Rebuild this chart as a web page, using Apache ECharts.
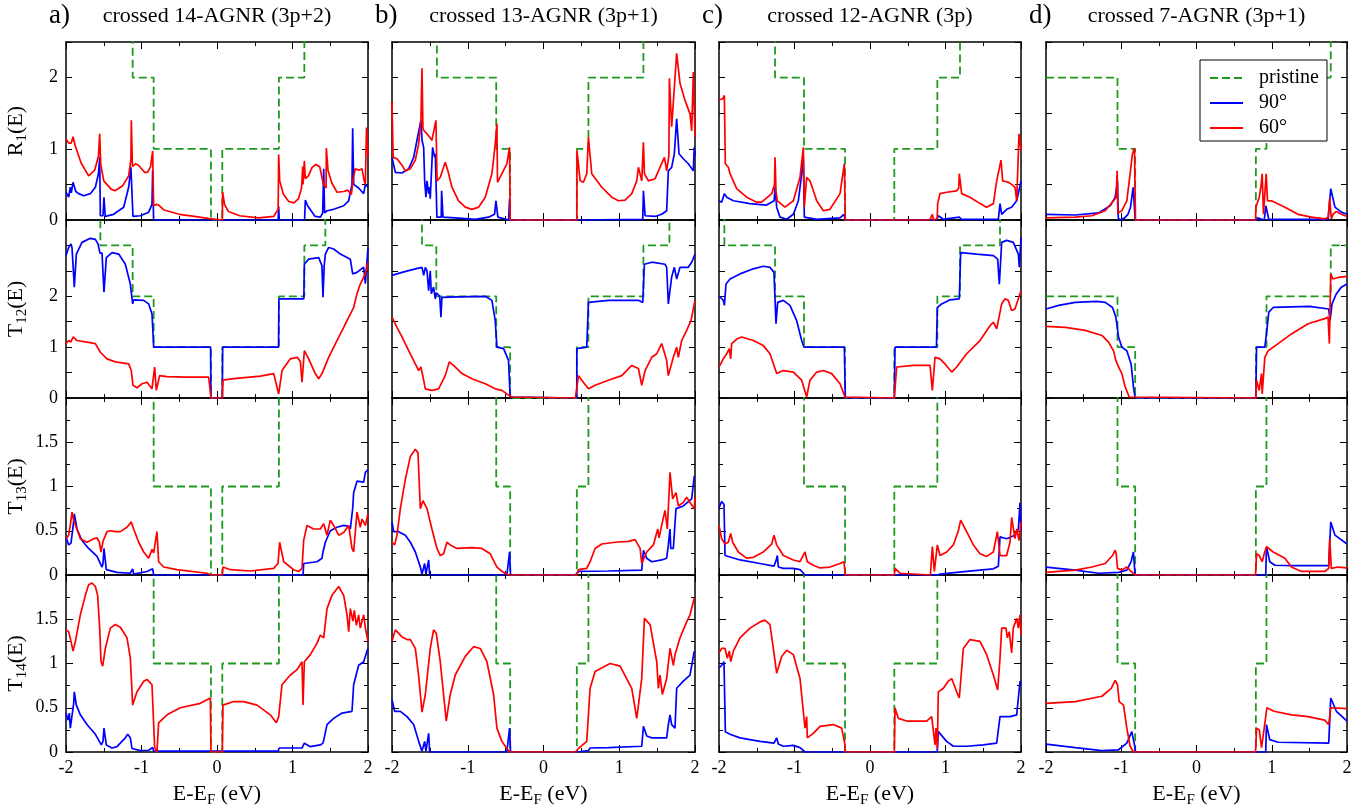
<!DOCTYPE html>
<html>
<head>
<meta charset="utf-8">
<title>crossed AGNR transmission</title>
<script src="https://cdn.jsdelivr.net/npm/echarts@6/dist/echarts.min.js"></script>
<style>
  html, body { margin: 0; padding: 0; background: #fff; }
  #chart { width: 1372px; height: 812px; }
</style>
</head>
<body>
<div id="chart"></div>
<script>
// ---- data: [E - E_F (eV), value] ----

// a) crossed 14-AGNR (3p+2)
const a_R1_pr = [[-2,3],[-1.117,3],[-1.117,2],[-0.839,2],[-0.839,1],[-0.08,1],[-0.08,0],[0.07,0],[0.07,1],[0.82,1],[0.82,2],[1.157,2],[1.157,3],[2,3]];
const a_R1_90 = [[-2,0.39],[-1.965,0.32],[-1.943,0.46],[-1.93,0.38],[-1.907,0.53],[-1.89,0.55],[-1.87,0.4],[-1.832,0.37],[-1.766,0.34],[-1.678,0.37],[-1.611,0.46],[-1.57,0.65],[-1.554,0.88],[-1.545,0.06],[-1.51,0.06],[-1.497,0.32],[-1.48,0.05],[-1.37,0.08],[-1.236,0.18],[-1.17,0.46],[-1.14,0.74],[-1.113,0.05],[-1.015,0.06],[-0.905,0.11],[-0.861,0.22],[-0.852,0.7],[-0.84,0],[0.81,0],[0.817,0.19],[0.825,0],[1.16,0],[1.17,0.28],[1.2,0.2],[1.3,0.05],[1.37,0.04],[1.4,0.1],[1.413,0.72],[1.425,0.1],[1.457,0.13],[1.545,0.15],[1.678,0.2],[1.744,0.27],[1.788,0.5],[1.797,1.29],[1.81,0.5],[1.832,0.48],[1.876,0.45],[1.943,0.37],[1.965,0.5],[2,0.46]];
const a_R1_60 = [[-2,1.14],[-1.965,1.08],[-1.93,1.08],[-1.907,1.17],[-1.88,1.05],[-1.8,0.8],[-1.7,0.62],[-1.62,0.7],[-1.57,0.9],[-1.554,1.21],[-1.54,0.78],[-1.5,0.55],[-1.4,0.43],[-1.35,0.41],[-1.25,0.48],[-1.17,0.62],[-1.14,0.85],[-1.135,1.4],[-1.12,0.75],[-1.08,0.79],[-1.04,0.77],[-0.96,0.67],[-0.92,0.67],[-0.88,0.75],[-0.852,0.97],[-0.84,0.2],[-0.8,0.22],[-0.773,0.21],[-0.7,0.14],[-0.5,0.08],[-0.3,0.05],[-0.1,0.02],[-0.08,0],[0.07,0],[0.075,0.39],[0.1,0.22],[0.15,0.12],[0.3,0.06],[0.55,0.03],[0.75,0.05],[0.81,0.15],[0.817,0.92],[0.83,0.55],[0.88,0.36],[0.95,0.26],[1.02,0.24],[1.08,0.3],[1.12,0.45],[1.135,0.75],[1.14,0.5],[1.157,0.83],[1.17,0.58],[1.21,0.62],[1.26,0.74],[1.31,0.78],[1.36,0.75],[1.41,0.5],[1.445,0.45],[1.448,1.01],[1.47,0.7],[1.52,0.52],[1.59,0.39],[1.68,0.4],[1.73,0.42],[1.78,0.36],[1.8,0.55],[1.83,0.72],[1.88,0.7],[1.92,0.72],[1.95,0.55],[1.965,0.5],[1.98,1.3],[2,0.9]];

const a_T12_pr = [[-2,4],[-1.545,4],[-1.545,3],[-1.117,3],[-1.117,2],[-0.839,2],[-0.839,1],[-0.08,1],[-0.08,0],[0.07,0],[0.07,1],[0.82,1],[0.82,2],[1.157,2],[1.157,3],[1.435,3],[1.435,4],[2,4]];
const a_T12_90 = [[-2,2.8],[-1.965,2.96],[-1.934,3.03],[-1.92,2.95],[-1.89,2.18],[-1.863,2.83],[-1.788,3.06],[-1.678,3.14],[-1.611,3.12],[-1.576,3.03],[-1.55,2.85],[-1.523,2.85],[-1.497,2.08],[-1.466,2.76],[-1.391,2.86],[-1.302,2.83],[-1.214,2.63],[-1.148,2.24],[-1.117,1.85],[-1.104,1.93],[-0.971,1.92],[-0.905,1.85],[-0.861,1.65],[-0.845,1.2],[-0.839,1],[-0.085,1],[-0.08,0],[0.07,0],[0.075,1],[0.815,1],[0.82,1.95],[1.15,1.95],[1.157,2.63],[1.214,2.73],[1.347,2.76],[1.39,2.6],[1.404,1.98],[1.42,2.6],[1.435,2.83],[1.479,2.96],[1.545,2.93],[1.634,2.83],[1.766,2.73],[1.797,2.44],[1.854,2.47],[1.943,2.57],[1.965,2.25],[2,2.96]];
const a_T12_60 = [[-2,1.07],[-1.965,1.13],[-1.934,1.1],[-1.907,1.2],[-1.854,1.13],[-1.722,1.1],[-1.611,1.07],[-1.545,0.9],[-1.523,0.88],[-1.457,0.77],[-1.347,0.71],[-1.17,0.67],[-1.135,0.54],[-1.113,0.25],[-1.06,0.2],[-0.993,0.28],[-0.927,0.31],[-0.861,0.18],[-0.826,0.61],[-0.804,0.15],[-0.76,0.44],[-0.662,0.42],[-0.397,0.41],[-0.11,0.41],[-0.085,0.41],[-0.08,0],[0.07,0],[0.079,0.35],[0.221,0.38],[0.574,0.43],[0.751,0.48],[0.817,0.08],[0.861,0.54],[0.971,0.77],[1.06,0.8],[1.104,0.72],[1.126,0.31],[1.157,0.93],[1.214,0.77],[1.302,0.48],[1.347,0.38],[1.391,0.48],[1.479,0.8],[1.589,1.13],[1.678,1.39],[1.722,1.52],[1.766,1.65],[1.81,1.78],[1.854,2.05],[1.898,2.24],[1.965,2.44],[2,2.67]];

const a_T13_pr = [[-2,3],[-0.839,3],[-0.839,1],[-0.08,1],[-0.08,0],[0.07,0],[0.07,1],[0.82,1],[0.82,3],[2,3]];
const a_T13_90 = [[-2,0.43],[-1.965,0.34],[-1.934,0.36],[-1.907,0.54],[-1.89,0.69],[-1.854,0.52],[-1.788,0.39],[-1.7,0.3],[-1.589,0.21],[-1.523,0.09],[-1.51,0.13],[-1.497,0.3],[-1.466,0.06],[-1.325,0.03],[-1.15,0.02],[-1.117,0.07],[-1.104,0.01],[-0.927,0.04],[-0.852,0.07],[-0.839,0],[1.14,0],[1.148,0.13],[1.325,0.15],[1.391,0.19],[1.404,0.26],[1.435,0.37],[1.501,0.5],[1.589,0.54],[1.678,0.56],[1.744,0.55],[1.766,0.52],[1.797,0.75],[1.81,0.93],[1.854,1.06],[1.943,1.05],[1.965,1.16],[2,1.19]];
const a_T13_60 = [[-2,0.41],[-1.965,0.45],[-1.943,0.56],[-1.92,0.71],[-1.898,0.62],[-1.81,0.41],[-1.722,0.37],[-1.634,0.41],[-1.589,0.42],[-1.558,0.37],[-1.536,0.26],[-1.51,0.38],[-1.457,0.49],[-1.413,0.5],[-1.347,0.49],[-1.28,0.49],[-1.192,0.54],[-1.135,0.6],[-1.104,0.52],[-1.037,0.37],[-0.971,0.26],[-0.905,0.19],[-0.861,0.29],[-0.839,0.25],[-0.795,0.49],[-0.773,0.15],[-0.706,0.09],[-0.53,0.06],[-0.132,0.02],[-0.08,0],[0.07,0],[0.079,0.09],[0.177,0.06],[0.442,0.045],[0.751,0.075],[0.808,0.13],[0.83,0.37],[0.883,0.15],[1.015,0.06],[1.082,0.04],[1.126,0.075],[1.148,0.39],[1.192,0.56],[1.28,0.52],[1.369,0.52],[1.413,0.58],[1.457,0.45],[1.501,0.62],[1.545,0.56],[1.612,0.45],[1.678,0.48],[1.744,0.56],[1.788,0.3],[1.81,0.26],[1.854,0.71],[1.898,0.54],[1.92,0.63],[1.965,0.56],[2,0.69]];

const a_T14_pr = [[-2,3],[-0.839,3],[-0.839,1],[-0.08,1],[-0.08,0],[0.07,0],[0.07,1],[0.82,1],[0.82,3],[2,3]];
const a_T14_90 = [[-2,0.44],[-1.974,0.36],[-1.956,0.44],[-1.943,0.27],[-1.92,0.27],[-1.898,0.55],[-1.89,0.68],[-1.863,0.53],[-1.81,0.42],[-1.722,0.31],[-1.611,0.2],[-1.532,0.08],[-1.51,0.12],[-1.497,0.27],[-1.466,0.08],[-1.391,0.045],[-1.325,0.06],[-1.214,0.16],[-1.183,0.2],[-1.148,0.16],[-1.126,0.04],[-1.015,0.015],[-0.905,0.02],[-0.852,0.05],[-0.839,0.01],[0.81,0.01],[0.825,0.045],[1.126,0.045],[1.157,0.1],[1.236,0.06],[1.369,0.08],[1.404,0.1],[1.42,0.16],[1.457,0.31],[1.545,0.38],[1.656,0.44],[1.788,0.46],[1.81,0.76],[1.876,0.98],[1.943,1.02],[1.987,1.14],[2,1.17]];
const a_T14_60 = [[-2,1.38],[-1.965,1.36],[-1.934,1.25],[-1.907,1.14],[-1.876,1.25],[-1.81,1.55],[-1.744,1.77],[-1.7,1.89],[-1.656,1.91],[-1.611,1.87],[-1.581,1.77],[-1.554,1.4],[-1.536,1.02],[-1.514,0.97],[-1.479,1.17],[-1.413,1.4],[-1.347,1.44],[-1.28,1.41],[-1.192,1.29],[-1.148,1.06],[-1.117,0.53],[-1.06,0.68],[-0.971,0.8],[-0.927,0.82],[-0.861,0.76],[-0.826,0.05],[-0.795,0],[-0.773,0.33],[-0.75,0.33],[-0.662,0.42],[-0.486,0.5],[-0.221,0.55],[-0.088,0.61],[-0.08,0],[0.07,0],[0.079,0.53],[0.221,0.57],[0.353,0.57],[0.53,0.53],[0.706,0.42],[0.786,0.33],[0.817,0.4],[0.861,0.76],[0.971,0.87],[1.06,0.93],[1.126,1.02],[1.139,0.53],[1.157,1.02],[1.236,1.1],[1.325,1.23],[1.369,1.32],[1.413,1.29],[1.457,1.62],[1.523,1.77],[1.612,1.87],[1.678,1.77],[1.722,1.55],[1.744,1.36],[1.766,1.62],[1.8,1.48],[1.819,1.6],[1.846,1.43],[1.876,1.55],[1.898,1.4],[1.943,1.55],[1.965,1.4],[2,1.25]];

// b) crossed 13-AGNR (3p+1)
const b_R1_pr = [[-2,3],[-1.407,3],[-1.407,2],[-0.624,2],[-0.624,1],[-0.44,1],[-0.44,0],[0.44,0],[0.44,1],[0.593,1],[0.593,2],[1.319,2],[1.319,3],[2,3]];
const b_R1_90 = [[-2,0.88],[-1.956,0.67],[-1.868,0.66],[-1.78,0.72],[-1.714,0.88],[-1.67,1.12],[-1.618,1.4],[-1.604,1.12],[-1.582,1.02],[-1.569,0.55],[-1.552,0.32],[-1.538,0.55],[-1.516,0.37],[-1.503,0.46],[-1.495,0.3],[-1.464,1.02],[-1.437,0.88],[-1.428,0.93],[-1.407,0.04],[-1.35,0.04],[-1.345,0.41],[-1.327,0.04],[-1.165,0.03],[-0.901,0.01],[-0.725,0.04],[-0.646,0.08],[-0.628,0.27],[-0.602,0.04],[-0.46,0],[-0.448,0.3],[-0.44,0],[0.44,0],[0.45,0.01],[1.31,0.01],[1.319,0.41],[1.341,0.06],[1.473,0.05],[1.56,0.08],[1.626,0.13],[1.648,0.69],[1.692,0.74],[1.727,0.93],[1.758,1.42],[1.789,0.93],[1.846,0.86],[1.912,0.79],[1.978,0.69],[1.99,1.02],[2,0.9]];
const b_R1_60 = [[-2,1.66],[-1.985,0.88],[-1.934,0.86],[-1.868,0.77],[-1.824,0.69],[-1.758,0.72],[-1.692,0.84],[-1.648,1.07],[-1.618,1.4],[-1.604,2.13],[-1.592,1.3],[-1.582,1.26],[-1.538,1.21],[-1.473,1.12],[-1.42,1.4],[-1.405,0.55],[-1.363,0.6],[-1.297,0.81],[-1.262,0.69],[-1.209,0.46],[-1.121,0.27],[-1.033,0.18],[-0.945,0.15],[-0.857,0.18],[-0.769,0.32],[-0.681,0.65],[-0.637,1.07],[-0.615,1.35],[-0.607,0.53],[-0.549,0.65],[-0.484,0.79],[-0.448,1.02],[-0.44,0],[0.44,0],[0.442,0.98],[0.484,0.55],[0.527,0.53],[0.571,0.65],[0.593,1.16],[0.637,0.65],[0.769,0.46],[0.901,0.32],[0.989,0.27],[1.077,0.28],[1.165,0.37],[1.231,0.55],[1.253,0.74],[1.297,0.55],[1.319,1.09],[1.332,0.65],[1.385,0.55],[1.473,0.58],[1.538,0.74],[1.596,0.88],[1.626,0.69],[1.655,0.9],[1.662,1.99],[1.692,1.31],[1.758,2.34],[1.802,1.92],[1.868,1.68],[1.934,1.49],[1.956,1.25],[1.978,2.08],[2,1.16]];

const b_T12_pr = [[-2,4],[-1.604,4],[-1.604,3],[-1.415,3],[-1.415,2],[-0.624,2],[-0.624,1],[-0.44,1],[-0.44,0],[0.44,0],[0.44,1],[0.593,1],[0.593,2],[1.319,2],[1.319,3],[1.662,3],[1.662,4],[2,4]];
const b_T12_90 = [[-2,2.41],[-1.868,2.47],[-1.692,2.54],[-1.604,2.57],[-1.582,2.41],[-1.56,2.57],[-1.538,2.5],[-1.516,2.11],[-1.495,2.5],[-1.481,2.05],[-1.451,2.18],[-1.429,1.95],[-1.415,2.07],[-1.37,2],[-1.354,1.59],[-1.341,1.98],[-1.121,1.99],[-0.769,2],[-0.681,1.92],[-0.637,1.52],[-0.615,1],[-0.527,0.97],[-0.462,0.74],[-0.44,0.02],[-0.44,0],[0.44,0],[0.44,0.97],[0.571,1],[0.593,1.88],[0.857,1.92],[1.253,1.92],[1.31,1.88],[1.332,2.63],[1.429,2.67],[1.604,2.63],[1.626,2.57],[1.648,1.85],[1.692,2.38],[1.727,2.57],[1.758,2.34],[1.802,2.57],[1.912,2.57],[1.956,2.67],[2,2.83]];
const b_T12_60 = [[-2,1.59],[-1.934,1.39],[-1.868,1.2],[-1.78,0.93],[-1.692,0.67],[-1.648,0.54],[-1.618,0.61],[-1.582,0.35],[-1.56,0.18],[-1.473,0.15],[-1.385,0.18],[-1.297,0.44],[-1.244,0.71],[-1.187,0.64],[-1.077,0.48],[-0.945,0.38],[-0.769,0.28],[-0.637,0.18],[-0.549,0.15],[-0.484,0.08],[-0.418,0.02],[-0.4,0],[0.42,0],[0.462,0.44],[0.505,0.35],[0.593,0.18],[0.681,0.25],[0.857,0.35],[1.033,0.44],[1.165,0.64],[1.253,0.58],[1.297,0.25],[1.341,0.54],[1.429,0.8],[1.495,0.87],[1.56,1.07],[1.626,0.74],[1.648,0.44],[1.714,0.8],[1.758,1],[1.78,0.8],[1.824,1.13],[1.89,1.33],[1.947,1.52],[2,1.92]];

const b_T13_pr = [[-2,3],[-0.624,3],[-0.624,1],[-0.44,1],[-0.44,0],[0.44,0],[0.44,1],[0.593,1],[0.593,3],[2,3]];
const b_T13_90 = [[-2,0.6],[-1.978,0.49],[-1.912,0.49],[-1.824,0.45],[-1.758,0.37],[-1.692,0.26],[-1.626,0.09],[-1.604,0.01],[-1.569,0.13],[-1.552,0.01],[-1.516,0.17],[-1.503,0],[-0.484,0],[-0.448,0.26],[-0.435,0],[0.42,0],[0.462,0.04],[0.857,0.045],[1.297,0.055],[1.319,0.28],[1.363,0.19],[1.429,0.15],[1.56,0.17],[1.626,0.19],[1.648,0.34],[1.67,0.52],[1.68,0.3],[1.714,0.3],[1.749,0.75],[1.846,0.78],[1.956,0.86],[1.991,1.12],[2,1.12]];
const b_T13_60 = [[-2,0.37],[-1.965,0.34],[-1.934,0.45],[-1.89,0.75],[-1.824,1.08],[-1.758,1.34],[-1.692,1.42],[-1.657,1.38],[-1.626,0.75],[-1.591,0.84],[-1.538,0.75],[-1.473,0.52],[-1.407,0.3],[-1.363,0.22],[-1.319,0.24],[-1.275,0.37],[-1.231,0.34],[-1.143,0.3],[-0.945,0.31],[-0.813,0.3],[-0.703,0.24],[-0.615,0.09],[-0.549,0.04],[-0.462,0],[0.44,0],[0.462,0.06],[0.571,0.075],[0.615,0.15],[0.681,0.3],[0.769,0.35],[0.945,0.37],[1.121,0.38],[1.209,0.4],[1.275,0.3],[1.297,0.13],[1.363,0.26],[1.451,0.34],[1.508,0.52],[1.525,0.42],[1.56,0.56],[1.604,0.73],[1.635,0.52],[1.67,1.16],[1.705,0.86],[1.749,0.93],[1.78,0.78],[1.846,0.82],[1.89,0.88],[1.934,0.82],[1.991,0.75],[2,0.88]];

const b_T14_pr = [[-2,3],[-0.624,3],[-0.624,1],[-0.44,1],[-0.44,0],[0.44,0],[0.44,1],[0.593,1],[0.593,3],[2,3]];
const b_T14_90 = [[-2,0.59],[-1.965,0.46],[-1.89,0.46],[-1.802,0.4],[-1.714,0.31],[-1.648,0.12],[-1.604,0.01],[-1.569,0.12],[-1.552,0.01],[-1.516,0.21],[-1.503,0],[-0.484,0],[-0.448,0.27],[-0.435,0],[0.44,0],[0.593,0.015],[0.615,0.045],[0.857,0.05],[1.297,0.065],[1.319,0.29],[1.363,0.18],[1.429,0.16],[1.626,0.16],[1.648,0.31],[1.67,0.42],[1.692,0.31],[1.736,0.27],[1.758,0.72],[1.846,0.8],[1.934,0.87],[1.991,1.14],[2,1.14]];
const b_T14_60 = [[-2,1.25],[-1.956,1.38],[-1.934,1.4],[-1.868,1.3],[-1.802,1.27],[-1.758,1.27],[-1.692,1.17],[-1.648,0.86],[-1.604,0.45],[-1.56,0.65],[-1.495,1.17],[-1.451,1.38],[-1.415,1.34],[-1.363,1.02],[-1.284,0.35],[-1.231,0.65],[-1.165,0.87],[-1.033,1.08],[-0.923,1.19],[-0.835,1.17],[-0.747,1.02],[-0.659,0.65],[-0.615,0.27],[-0.549,0.12],[-0.484,0.04],[-0.44,0],[0.42,0],[0.462,0.04],[0.571,0.12],[0.615,0.72],[0.681,0.91],[0.879,1],[1.011,0.97],[1.165,0.72],[1.231,0.38],[1.297,0.83],[1.332,1.51],[1.407,1.44],[1.495,1.02],[1.516,0.72],[1.538,0.87],[1.569,0.65],[1.626,0.83],[1.67,1.17],[1.714,0.98],[1.736,1.1],[1.802,1.29],[1.89,1.47],[1.934,1.55],[1.991,1.74],[2,1.74]];

// c) crossed 12-AGNR (3p)
const c_R1_pr = [[-2,3],[-1.258,3],[-1.258,2],[-0.874,2],[-0.874,1],[-0.331,1],[-0.331,0],[0.322,0],[0.322,1],[0.892,1],[0.892,2],[1.192,2],[1.192,3],[2,3]];
const c_R1_90 = [[-2,0.27],[-1.965,0.25],[-1.929,0.37],[-1.898,0.32],[-1.81,0.27],[-1.59,0.23],[-1.37,0.21],[-1.27,0.27],[-1.258,0.46],[-1.236,0.18],[-1.192,0.04],[-1.104,0.01],[-1.015,0.08],[-0.949,0.27],[-0.905,0.65],[-0.883,0.88],[-0.87,0.04],[-0.706,0.01],[-0.397,0.03],[-0.345,0.08],[-0.327,0],[0.88,0],[0.905,0.06],[0.97,0.01],[1.183,0.04],[1.21,0.01],[1.7,0.01],[1.722,0.23],[1.744,0.08],[1.81,0.15],[1.876,0.18],[1.943,0.27],[1.987,0.48],[2,0.55]];
const c_R1_60 = [[-2,1.69],[-1.951,1.7],[-1.929,1.75],[-1.916,0.79],[-1.876,0.74],[-1.854,0.65],[-1.832,0.63],[-1.766,0.44],[-1.634,0.32],[-1.501,0.25],[-1.435,0.25],[-1.302,0.37],[-1.265,0.5],[-1.258,0.88],[-1.245,0.4],[-1.227,0.27],[-1.126,0.18],[-1.015,0.27],[-0.927,0.6],[-0.883,1.02],[-0.87,0.18],[-0.839,0.6],[-0.795,0.55],[-0.706,0.27],[-0.618,0.13],[-0.53,0.15],[-0.397,0.37],[-0.34,0.79],[-0.327,0],[0.79,0],[0.826,0.08],[0.84,0],[0.89,0.02],[0.896,0.23],[0.927,0.37],[1.015,0.39],[1.148,0.41],[1.175,0.45],[1.183,0.65],[1.214,0.37],[1.325,0.32],[1.457,0.23],[1.545,0.18],[1.634,0.23],[1.678,0.55],[1.735,0.84],[1.757,0.55],[1.832,0.53],[1.876,0.5],[1.92,0.46],[1.943,0.27],[1.974,1.21],[2,0.98]];

const c_T12_pr = [[-2,4],[-1.929,4],[-1.929,3],[-1.258,3],[-1.258,2],[-0.874,2],[-0.874,1],[-0.331,1],[-0.331,0],[0.322,0],[0.322,1],[0.892,1],[0.892,2],[1.192,2],[1.192,3],[1.722,3],[1.722,4],[2,4]];
const c_T12_90 = [[-2,2.01],[-1.943,1.92],[-1.929,1.82],[-1.907,2.24],[-1.854,2.34],[-1.722,2.44],[-1.545,2.54],[-1.413,2.59],[-1.325,2.57],[-1.272,2.47],[-1.245,1.46],[-1.223,1.88],[-1.148,1.92],[-1.06,1.82],[-0.971,1.52],[-0.905,1.13],[-0.874,1],[-0.34,1],[-0.327,0],[0.322,0],[0.331,1],[0.88,1],[0.892,1.78],[0.949,1.85],[1.06,1.93],[1.183,1.95],[1.201,2.86],[1.413,2.83],[1.634,2.8],[1.691,2.73],[1.713,2.24],[1.744,3.06],[1.81,3.1],[1.898,3.06],[1.965,2.83],[1.978,2.57],[2,3.16]];
const c_T12_60 = [[-2,0.61],[-1.943,0.77],[-1.898,0.87],[-1.863,0.97],[-1.845,0.77],[-1.832,1.07],[-1.766,1.16],[-1.7,1.2],[-1.545,1.13],[-1.413,1.03],[-1.325,0.87],[-1.272,0.64],[-1.236,0.48],[-1.148,0.54],[-1.015,0.51],[-0.905,0.35],[-0.839,0.02],[-0.795,0.35],[-0.706,0.51],[-0.618,0.54],[-0.508,0.48],[-0.397,0.28],[-0.331,0.02],[-0.33,0],[0.322,0],[0.353,0.61],[0.574,0.64],[0.795,0.64],[0.826,0.15],[0.861,0.8],[0.927,0.77],[0.993,0.67],[1.082,0.51],[1.148,0.61],[1.28,0.87],[1.457,1.13],[1.589,1.42],[1.634,1.49],[1.678,1.36],[1.744,1.85],[1.788,1.95],[1.832,1.92],[1.876,1.72],[1.92,1.75],[2,2.11]];

const c_T13_pr = [[-2,3],[-0.874,3],[-0.874,1],[-0.331,1],[-0.331,0],[0.322,0],[0.322,1],[0.892,1],[0.892,3],[2,3]];
const c_T13_90 = [[-2,0.76],[-1.965,0.83],[-1.934,0.8],[-1.92,0.22],[-1.898,0.2],[-1.722,0.17],[-1.457,0.13],[-1.272,0.1],[-1.245,0.16],[-1.227,0.22],[-1.214,0.09],[-1.148,0.075],[-1.015,0.075],[-0.927,0.06],[-0.86,0],[0.9,0],[0.927,0.01],[1.28,0.04],[1.634,0.07],[1.7,0.1],[1.722,0.43],[1.81,0.41],[1.92,0.45],[1.965,0.52],[1.987,0.82],[2,0.49]];
const c_T13_60 = [[-2,0.56],[-1.965,0.41],[-1.92,0.35],[-1.876,0.37],[-1.845,0.47],[-1.819,0.37],[-1.744,0.26],[-1.634,0.19],[-1.545,0.2],[-1.413,0.26],[-1.302,0.35],[-1.272,0.45],[-1.236,0.34],[-1.148,0.22],[-1.015,0.17],[-0.927,0.15],[-0.861,0.26],[-0.83,0.15],[-0.751,0.11],[-0.662,0.08],[-0.53,0.09],[-0.397,0.13],[-0.345,0.15],[-0.327,0],[0.322,0],[0.331,0.075],[0.397,0.02],[0.8,0],[0.826,0.32],[0.852,0.04],[0.892,0.34],[0.927,0.22],[1.015,0.26],[1.104,0.34],[1.17,0.5],[1.201,0.62],[1.28,0.49],[1.369,0.34],[1.457,0.24],[1.545,0.21],[1.634,0.26],[1.687,0.49],[1.722,0.22],[1.81,0.22],[1.854,0.37],[1.876,0.65],[1.92,0.41],[1.943,0.52],[1.974,0.39],[2,0.6]];

const c_T14_pr = [[-2,3],[-0.874,3],[-0.874,1],[-0.331,1],[-0.331,0],[0.322,0],[0.322,1],[0.892,1],[0.892,3],[2,3]];
const c_T14_90 = [[-2,0.95],[-1.965,0.98],[-1.934,1.02],[-1.916,0.23],[-1.854,0.2],[-1.722,0.16],[-1.457,0.12],[-1.272,0.1],[-1.236,0.16],[-1.214,0.09],[-1.148,0.065],[-1.015,0.075],[-0.927,0.05],[-0.86,0],[0.89,0],[0.905,0.23],[1.015,0.12],[1.104,0.065],[1.28,0.065],[1.501,0.08],[1.678,0.1],[1.722,0.4],[1.854,0.4],[1.943,0.42],[1.987,0.8],[2,0.76]];
const c_T14_60 = [[-2,1.12],[-1.965,1.17],[-1.92,1.17],[-1.89,1.06],[-1.863,1.14],[-1.845,1.02],[-1.81,1.14],[-1.722,1.29],[-1.589,1.4],[-1.457,1.47],[-1.391,1.49],[-1.325,1.44],[-1.28,1.17],[-1.236,0.89],[-1.17,1.08],[-1.104,1.15],[-1.015,1.1],[-0.927,0.83],[-0.861,0.27],[-0.839,0.4],[-0.83,0.16],[-0.751,0.21],[-0.662,0.29],[-0.486,0.31],[-0.375,0.27],[-0.335,0.1],[-0.327,0],[0.322,0],[0.331,0.5],[0.375,0.38],[0.486,0.35],[0.751,0.35],[0.817,0.4],[0.861,0.08],[0.874,0.27],[0.892,0.04],[0.905,0.68],[0.971,0.72],[1.037,0.8],[1.082,0.83],[1.148,0.68],[1.183,0.61],[1.236,1.17],[1.325,1.27],[1.457,1.25],[1.545,1.1],[1.634,0.87],[1.691,0.7],[1.722,1.06],[1.744,1.4],[1.801,1.4],[1.819,1.29],[1.845,1.36],[1.876,1.12],[1.898,1.4],[1.943,1.51],[1.965,1.4],[1.987,1.55],[2,1.32]];

// d) crossed 7-AGNR (3p+1)
const d_R1_pr = [[-2,2],[-1.05,2],[-1.05,1],[-0.815,1],[-0.815,0],[0.789,0],[0.789,1],[0.93,1],[0.93,2],[1.784,2],[1.784,3],[2,3]];
const d_R1_90 = [[-2,0.08],[-1.611,0.07],[-1.302,0.1],[-1.147,0.2],[-1.08,0.32],[-1.05,0.55],[-1.04,0.03],[-1.02,0],[-0.955,0.03],[-0.911,0.08],[-0.877,0.18],[-0.842,0.46],[-0.82,0.1],[-0.815,0],[0.81,0],[0.81,0.03],[0.9,0],[0.922,0.2],[0.96,0.01],[1.75,0.01],[1.77,0.27],[1.784,0.44],[1.84,0.18],[1.925,0.11],[2,0.08]];
const d_R1_60 = [[-2,0.03],[-1.611,0.04],[-1.39,0.06],[-1.213,0.13],[-1.103,0.27],[-1.067,0.32],[-1.055,0.69],[-1.045,0.1],[-1.028,0.08],[-0.992,0.13],[-0.926,0.27],[-0.882,0.65],[-0.851,0.93],[-0.824,1.01],[-0.811,0],[0.785,0],[0.789,0.18],[0.834,0.32],[0.855,0.46],[0.873,0.65],[0.89,0.08],[0.91,0.1],[0.926,0.65],[0.944,0.27],[0.997,0.27],[1.174,0.18],[1.35,0.08],[1.527,0.04],[1.704,0.015],[1.75,0.04],[1.77,0.3],[1.792,0.015],[1.814,0.08],[1.858,0.12],[1.925,0.08],[2,0.05]];

const d_T12_pr = [[-2,2],[-1.05,2],[-1.05,1],[-0.815,1],[-0.815,0],[0.789,0],[0.789,1],[0.93,1],[0.93,2],[1.784,2],[1.784,3],[2,3]];
const d_T12_90 = [[-2,1.75],[-1.832,1.82],[-1.611,1.88],[-1.324,1.9],[-1.213,1.88],[-1.116,1.78],[-1.072,1.59],[-1.036,1.2],[-0.992,1],[-0.926,0.93],[-0.869,0.67],[-0.838,0.22],[-0.815,0],[0.789,0],[0.798,1],[0.908,1],[0.93,1.26],[0.961,1.69],[1.019,1.78],[1.5,1.8],[1.757,1.75],[1.775,1.52],[1.801,1.85],[1.859,2.05],[1.925,2.18],[2,2.24]];
const d_T12_60 = [[-2,1.41],[-1.744,1.39],[-1.478,1.33],[-1.257,1.23],[-1.169,1.1],[-1.103,0.93],[-1.072,0.74],[-1.036,0.61],[-0.992,0.48],[-0.948,0.22],[-0.895,0.02],[-0.88,0],[0.789,0],[0.798,0.35],[0.833,0.15],[0.864,0.48],[0.873,0.08],[0.908,0.8],[0.953,0.93],[1.085,1.07],[1.262,1.26],[1.483,1.46],[1.704,1.56],[1.748,1.59],[1.766,1.07],[1.784,2.44],[1.814,2.34],[1.881,2.37],[2,2.39]];

const d_T13_pr = [[-2,3],[-1.05,3],[-1.05,1],[-0.815,1],[-0.815,0],[0.789,0],[0.789,1],[0.93,1],[0.93,3],[2,3]];
const d_T13_90 = [[-2,0.09],[-1.611,0.055],[-1.302,0.02],[-1.036,0.03],[-0.926,0.055],[-0.869,0.15],[-0.838,0.26],[-0.82,0.04],[-0.815,0],[0.92,0],[0.93,0.32],[0.974,0.15],[1.041,0.11],[1.262,0.105],[1.757,0.105],[1.784,0.6],[1.84,0.45],[2,0.35]];
const d_T13_60 = [[-2,0.03],[-1.611,0.055],[-1.39,0.09],[-1.213,0.13],[-1.116,0.22],[-1.08,0.28],[-1.067,0.24],[-1.05,0.075],[-0.992,0.055],[-0.926,0.09],[-0.869,0.04],[-0.815,0],[0.785,0],[0.798,0.24],[0.834,0.22],[0.873,0.15],[0.9,0.24],[0.93,0.32],[1.019,0.26],[1.174,0.19],[1.262,0.09],[1.394,0.04],[1.704,0.04],[1.757,0.075],[1.77,0.41],[1.792,0.075],[1.881,0.09],[2,0.08]];

const d_T14_pr = [[-2,3],[-1.05,3],[-1.05,1],[-0.815,1],[-0.815,0],[0.789,0],[0.789,1],[0.93,1],[0.93,3],[2,3]];
const d_T14_90 = [[-2,0.09],[-1.611,0.05],[-1.257,0.015],[-1.036,0.025],[-0.926,0.1],[-0.86,0.23],[-0.824,0.08],[-0.81,0],[0.92,0],[0.93,0.31],[0.974,0.14],[1.085,0.11],[1.757,0.1],[1.784,0.61],[1.859,0.46],[2,0.35]];
const d_T14_60 = [[-2,0.55],[-1.611,0.57],[-1.257,0.63],[-1.133,0.72],[-1.08,0.81],[-1.05,0.76],[-1.028,0.57],[-0.97,0.53],[-0.926,0.27],[-0.882,0.065],[-0.838,0],[0.785,0],[0.798,0.27],[0.834,0.25],[0.864,0.05],[0.9,0.27],[0.935,0.5],[1.03,0.46],[1.262,0.42],[1.483,0.4],[1.704,0.36],[1.757,0.31],[1.784,0.5],[2,0.49]];

// labels and axis values
const colLetters = ['a)', 'b)', 'c)', 'd)'];
const colTitles = ['crossed 14-AGNR (3p+2)', 'crossed 13-AGNR (3p+1)', 'crossed 12-AGNR (3p)', 'crossed 7-AGNR (3p+1)'];
const rowSymbols = ['R', 'T', 'T', 'T'];
const rowSubs = ['1', '12', '13', '14'];
const rowMax = [2.5, 3.5, 2, 2];
const rowTickLabels = [[0, 1, 2], [0, 1, 2], [0, 0.5, 1, 1.5], [0, 0.5, 1, 1.5]];
const xTickLabels = [-2, -1, 0, 1, 2];
const seriesNames = ['pristine', '90°', '60°'];

const panels = [
  [[a_R1_pr, a_R1_90, a_R1_60], [a_T12_pr, a_T12_90, a_T12_60], [a_T13_pr, a_T13_90, a_T13_60], [a_T14_pr, a_T14_90, a_T14_60]],
  [[b_R1_pr, b_R1_90, b_R1_60], [b_T12_pr, b_T12_90, b_T12_60], [b_T13_pr, b_T13_90, b_T13_60], [b_T14_pr, b_T14_90, b_T14_60]],
  [[c_R1_pr, c_R1_90, c_R1_60], [c_T12_pr, c_T12_90, c_T12_60], [c_T13_pr, c_T13_90, c_T13_60], [c_T14_pr, c_T14_90, c_T14_60]],
  [[d_R1_pr, d_R1_90, d_R1_60], [d_T12_pr, d_T12_90, d_T12_60], [d_T13_pr, d_T13_90, d_T13_60], [d_T14_pr, d_T14_90, d_T14_60]]
];

// ---- layout / style ----
const FONT = '"Liberation Serif", "Times New Roman", serif';
const colLeft = [66, 392, 719, 1046];
const colWidth = [302, 303, 302, 301];
const rowTop = [42, 220, 398, 575];
const rowHeight = [178, 178, 177, 177];
const colors = ['#1e9a1e', '#0000ff', '#ff0000'];
const NONE = 'rgba(0,0,0,0)';

const nameRich = {
  n: { fontFamily: FONT, fontSize: 22, color: '#000' },
  s: { fontFamily: FONT, fontSize: 15, color: '#000', padding: [12, 0, 0, 0] }
};

const grids = [], xAxes = [], yAxes = [], series = [];

for (let c = 0; c < 4; c++) {
  for (let r = 0; r < 4; r++) {
    const gi = grids.length;
    grids.push({ left: colLeft[c], top: rowTop[r], width: colWidth[c], height: rowHeight[r], containLabel: false });

    const bottomRow = r === 3;
    const axisLine = { show: true, onZero: false, lineStyle: { color: '#000', width: 1.5 } };
    const xBase = {
      type: 'value', gridIndex: gi, min: -2, max: 2, interval: 1,
      axisLine: axisLine, splitLine: { show: false },
      axisTick: { show: true, inside: true, length: 7, lineStyle: { color: '#000', width: 1 } },
      minorTick: { show: true, splitNumber: 2, length: 4, lineStyle: { color: '#000', width: 1 } }
    };
    xAxes.push(Object.assign({}, xBase, {
      position: 'bottom',
      axisLabel: {
        show: bottomRow, margin: 7, color: '#000', fontFamily: FONT, fontSize: 18,
        formatter: v => xTickLabels.includes(v) ? String(v) : ''
      },
      name: bottomRow ? '{n|E-E}{s|F}{n| (eV)}' : '',
      nameLocation: 'middle', nameGap: 29,
      nameTextStyle: { rich: nameRich }
    }));
    xAxes.push(Object.assign({}, xBase, { position: 'top', axisLabel: { show: false } }));

    const labels = rowTickLabels[r];
    const fine = r >= 2;
    const yBase = {
      type: 'value', gridIndex: gi, min: 0, max: rowMax[r], interval: 0.5,
      axisLine: axisLine, splitLine: { show: false },
      axisTick: { show: true, inside: true, length: fine ? 7 : 6, lineStyle: { color: '#000', width: 1 } },
      minorTick: { show: fine, splitNumber: 2, length: 4, lineStyle: { color: '#000', width: 1 } }
    };
    yAxes.push(Object.assign({}, yBase, {
      position: 'left',
      axisLabel: {
        show: c === 0, margin: 8, color: '#000', fontFamily: FONT, fontSize: 18,
        formatter: v => labels.includes(v) ? String(v) : ''
      },
      name: c === 0 ? '{n|' + rowSymbols[r] + '}{s|' + rowSubs[r] + '}{n|(E)}' : '',
      nameLocation: 'middle', nameGap: 36, nameRotate: 90,
      nameTextStyle: { rich: nameRich }
    }));
    yAxes.push(Object.assign({}, yBase, { position: 'right', axisLabel: { show: false } }));

    const curves = panels[c][r];
    for (let k = 0; k < 3; k++) {
      series.push({
        type: 'line', name: seriesNames[k], data: curves[k],
        xAxisIndex: gi * 2, yAxisIndex: gi * 2,
        symbol: 'none', showSymbol: false, clip: true,
        lineStyle: { color: colors[k], width: k === 0 ? 1.8 : 1.7, type: k === 0 ? [8, 4] : 'solid' },
        itemStyle: { color: NONE, borderColor: NONE, borderWidth: 0 },
        emphasis: { disabled: true },
        z: 2 + k
      });
    }
  }
}

const graphics = [];
for (let c = 0; c < 4; c++) {
  graphics.push({
    type: 'text', x: colLeft[c] - 17, y: 16,
    style: { text: colLetters[c], fontFamily: FONT, fontSize: 27, fill: '#000', align: 'left', verticalAlign: 'middle' }
  });
  graphics.push({
    type: 'text', x: colLeft[c] + colWidth[c] / 2, y: 16,
    style: { text: colTitles[c], fontFamily: FONT, fontSize: 22, fill: '#000', align: 'center', verticalAlign: 'middle' }
  });
}

const chart = echarts.init(document.getElementById('chart'), null, { renderer: 'canvas' });
chart.setOption({
  animation: false,
  backgroundColor: '#fff',
  grid: grids,
  xAxis: xAxes,
  yAxis: yAxes,
  series: series,
  graphic: graphics,
  legend: {
    data: seriesNames,
    orient: 'vertical',
    left: 1200, top: 60,
    padding: [8, 8, 3, 9],
    itemWidth: 33, itemHeight: 14, itemGap: 5,
    selectedMode: false,
    borderColor: '#000', borderWidth: 1, borderRadius: 0,
    backgroundColor: '#fff',
    itemStyle: { color: NONE, borderColor: NONE, borderWidth: 0, opacity: 0 },
    textStyle: { fontFamily: FONT, fontSize: 20, color: '#000', padding: [0, 0, 0, 11] },
    z: 10
  }
});
window.addEventListener('resize', () => chart.resize());
</script>
</body>
</html>
